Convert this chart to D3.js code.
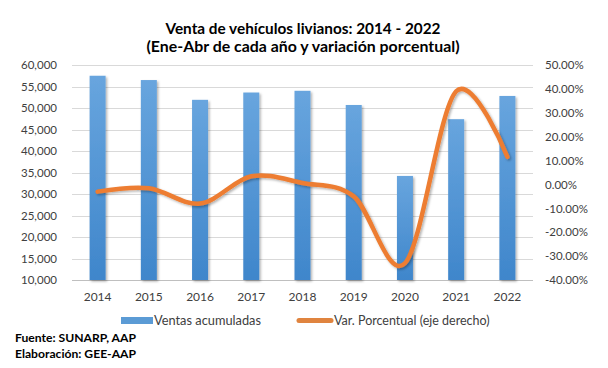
<!DOCTYPE html>
<html><head><meta charset="utf-8">
<script src="https://cdn.jsdelivr.net/npm/d3@7"></script>
<style>body{margin:0;background:#fff}svg{display:block}</style>
</head><body>
<svg id="c" width="608" height="368"></svg>
<script>
const years = ["2014","2015","2016","2017","2018","2019","2020","2021","2022"];
const ventas = [57500, 56500, 51900, 53600, 54000, 50700, 34200, 47400, 52800];
const variacion = [-3.0, -1.6, -8.0, 3.4, 0.6, -5.0, -33.0, 39.0, 11.5];
const leftTicks = [10000,15000,20000,25000,30000,35000,40000,45000,50000,55000,60000];
const rightTicks = [-40,-30,-20,-10,0,10,20,30,40,50];

const svg = d3.select("#c");
const font = "Lato, 'Open Sans', sans-serif";
const m = {l:72, r:533, t:65, b:280};

const x = d3.scaleBand().domain(years).range([m.l, m.r]);
const yL = d3.scaleLinear().domain([10000,60000]).range([m.b, m.t]);
const yR = d3.scaleLinear().domain([-40,50]).range([m.b, m.t]);

const defs = svg.append("defs");
const g = defs.append("linearGradient").attr("id","bg").attr("x1",0).attr("y1",0).attr("x2",0).attr("y2",1);
g.append("stop").attr("offset","0%").attr("stop-color","#68a5de");
g.append("stop").attr("offset","100%").attr("stop-color","#3f86cb");
const f = defs.append("filter").attr("id","sh").attr("x","-20%").attr("y","-20%").attr("width","150%").attr("height","150%");
f.append("feDropShadow").attr("dx",1.5).attr("dy",1.5).attr("stdDeviation",1.2).attr("flood-color","#000").attr("flood-opacity",0.3);

// title
svg.append("text").attr("x",303).attr("y",34).attr("text-anchor","middle")
  .attr("font-family",font).attr("font-weight","bold").attr("font-size",15.5).attr("fill","#000")
  .attr("textLength",275).attr("lengthAdjust","spacingAndGlyphs")
  .text("Venta de vehículos livianos: 2014 - 2022");
svg.append("text").attr("x",303).attr("y",52).attr("text-anchor","middle")
  .attr("font-family",font).attr("font-weight","bold").attr("font-size",15.5).attr("fill","#000")
  .attr("textLength",313).attr("lengthAdjust","spacingAndGlyphs")
  .text("(Ene-Abr de cada año y variación porcentual)");

// gridlines
svg.append("g").selectAll("line").data(leftTicks).join("line")
  .attr("x1",m.l).attr("x2",m.r).attr("y1",d=>Math.round(yL(d))+0.5).attr("y2",d=>Math.round(yL(d))+0.5)
  .attr("stroke",d=>d===10000?"#bfbfbf":"#d9d9d9").attr("stroke-width",1);

// left axis
const axL = svg.append("g").attr("transform",`translate(${m.l-15},0)`)
  .call(d3.axisLeft(yL).tickValues(leftTicks).tickFormat(d3.format(",")).tickSize(0).tickPadding(0));
axL.select(".domain").remove();
axL.selectAll("text").attr("font-family",font).attr("font-size",11.5).attr("fill","#404040");

// right axis
const axR = svg.append("g").attr("transform",`translate(${m.r+12},0)`)
  .call(d3.axisRight(yR).tickValues(rightTicks).tickFormat(d=>d.toFixed(2)+"%").tickSize(0).tickPadding(0));
axR.select(".domain").remove();
axR.selectAll("text").attr("font-family",font).attr("font-size",11.5).attr("fill","#404040");

// x axis
const axB = svg.append("g").attr("transform",`translate(0,${m.b+7})`)
  .call(d3.axisBottom(x).tickSize(0).tickPadding(5));
axB.select(".domain").remove();
axB.selectAll("text").attr("font-family",font).attr("font-size",12).attr("fill","#404040");

// bars
const bw = 16;
svg.append("g").selectAll("rect").data(ventas).join("rect")
  .attr("x",(d,i)=>x(years[i])+x.bandwidth()/2-bw/2)
  .attr("width",bw)
  .attr("y",d=>yL(d))
  .attr("height",d=>yL(10000)-yL(d))
  .attr("fill","url(#bg)").attr("filter","url(#sh)");

// line
const line = d3.line().x((d,i)=>x(years[i])+x.bandwidth()/2).y(d=>yR(d)).curve(d3.curveCatmullRom.alpha(0));
svg.append("path").datum(variacion).attr("d",line)
  .attr("fill","none").attr("stroke","#ed7d31").attr("stroke-width",4.5)
  .attr("stroke-linecap","round").attr("stroke-linejoin","round").attr("filter","url(#sh)");

// legend
const lg = svg.append("g");
lg.append("rect").attr("x",121).attr("y",317).attr("width",32).attr("height",7).attr("fill","#5b9bd5");
lg.append("text").attr("x",154).attr("y",325).attr("font-family",font).attr("font-size",12.5).attr("fill","#404040")
  .attr("textLength",107).attr("lengthAdjust","spacingAndGlyphs").text("Ventas acumuladas");
lg.append("line").attr("x1",299).attr("x2",331).attr("y1",320.5).attr("y2",320.5)
  .attr("stroke","#e0843f").attr("stroke-width",5).attr("stroke-linecap","round");
lg.append("text").attr("x",334).attr("y",325).attr("font-family",font).attr("font-size",12.5).attr("fill","#404040").text("Var. Porcentual (eje derecho)");

// footer
svg.append("text").attr("x",15).attr("y",342).attr("font-family",font).attr("font-weight","bold").attr("font-size",11.5).attr("fill","#000")
  .attr("textLength",121).attr("lengthAdjust","spacingAndGlyphs").text("Fuente: SUNARP, AAP");
svg.append("text").attr("x",15).attr("y",358).attr("font-family",font).attr("font-weight","bold").attr("font-size",11.5).attr("fill","#000")
  .attr("textLength",121).attr("lengthAdjust","spacingAndGlyphs").text("Elaboración: GEE-AAP");
</script>
</body></html>
